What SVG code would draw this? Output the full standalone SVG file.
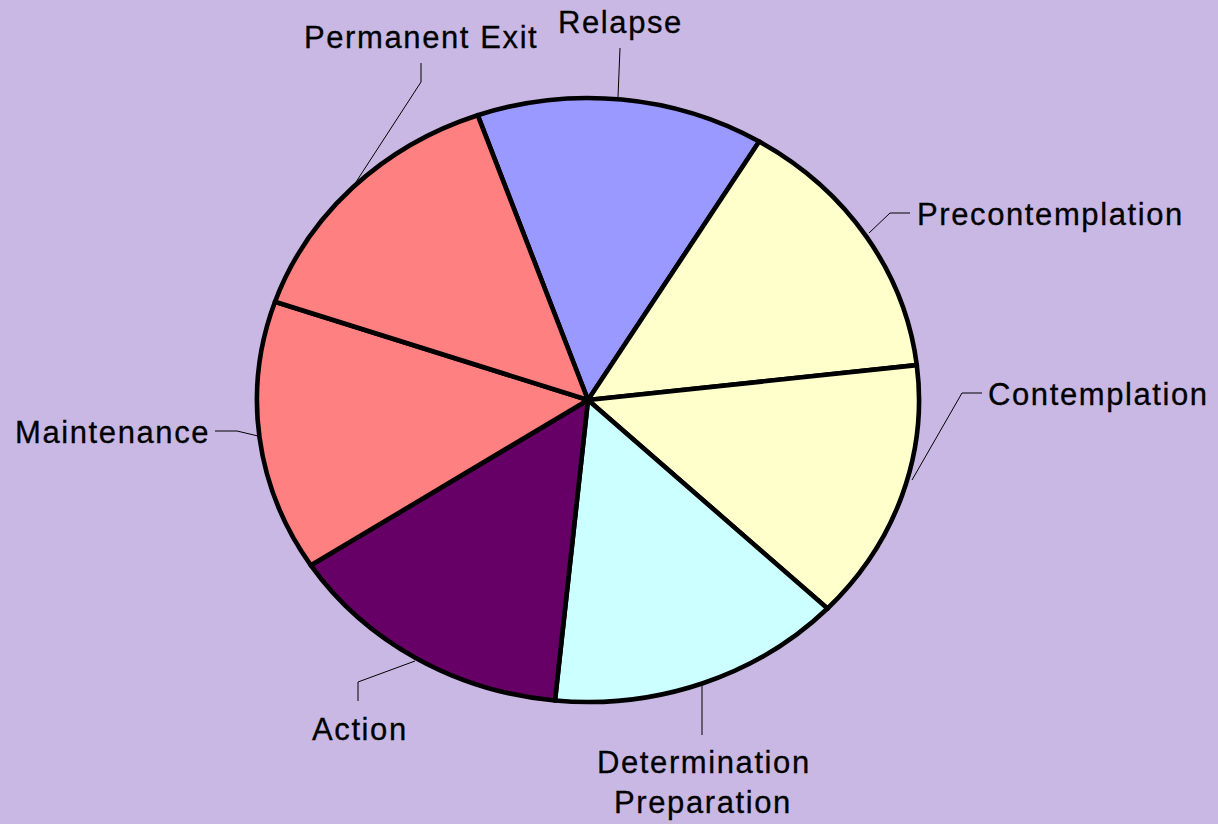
<svg xmlns="http://www.w3.org/2000/svg" width="1218" height="824" viewBox="0 0 1218 824">
<style>
.slice{stroke:#000;stroke-width:4.6;stroke-linejoin:round}
.lead{stroke:#000;stroke-width:1;fill:none}
.lbl{font-family:"Liberation Sans",Arial,sans-serif;font-size:31px;letter-spacing:1.6px;fill:#000;stroke:#000;stroke-width:0.3}
</style>
<rect x="0" y="0" width="1218" height="824" fill="#C8B8E3"/>
<g id="connectors">
<polyline class="lead" points="620,48 618,97"/>
<polyline class="lead" points="421,63 421,82 356,182"/>
<polyline class="lead" points="910,213 890,213 869,233"/>
<polyline class="lead" points="982,393 962,393 912,480"/>
<polyline class="lead" points="215,431 237,431 258,436"/>
<polyline class="lead" points="358,701 358,682 415,661"/>
<polyline class="lead" points="702,686 702,735"/>
</g>
<g id="relapse">
<path class="slice" fill="#9999FF" d="M588,400 L477.7,115.2 A331,302 0 0 1 759.2,141.6 Z"/>
<text class="lbl" x="558" y="33">Relapse</text>
</g>
<g id="precontemplation">
<path class="slice" fill="#FFFFCC" d="M588,400 L759.2,141.6 A331,302 0 0 1 916.8,365.1 Z"/>
<text class="lbl" x="917" y="225">Precontemplation</text>
</g>
<g id="contemplation">
<path class="slice" fill="#FFFFCC" d="M588,400 L916.8,365.1 A331,302 0 0 1 827.5,608.5 Z"/>
<text class="lbl" x="988" y="405">Contemplation</text>
</g>
<g id="determination">
<path class="slice" fill="#CCFFFF" d="M588,400 L827.5,608.5 A331,302 0 0 1 555,700.5 Z"/>
<text class="lbl" x="597" y="773">Determination</text>
<text class="lbl" x="614" y="813">Preparation</text>
</g>
<g id="action">
<path class="slice" fill="#660066" d="M588,400 L555,700.5 A331,302 0 0 1 310.9,565.3 Z"/>
<text class="lbl" x="312" y="740">Action</text>
</g>
<g id="maintenance">
<path class="slice" fill="#FF8080" d="M588,400 L310.9,565.3 A331,302 0 0 1 275,301.7 Z"/>
<text class="lbl" x="15" y="443">Maintenance</text>
</g>
<g id="permanent-exit">
<path class="slice" fill="#FF8080" d="M588,400 L275,301.7 A331,302 0 0 1 477.7,115.2 Z"/>
<text class="lbl" x="304" y="48">Permanent Exit</text>
</g>
</svg>
